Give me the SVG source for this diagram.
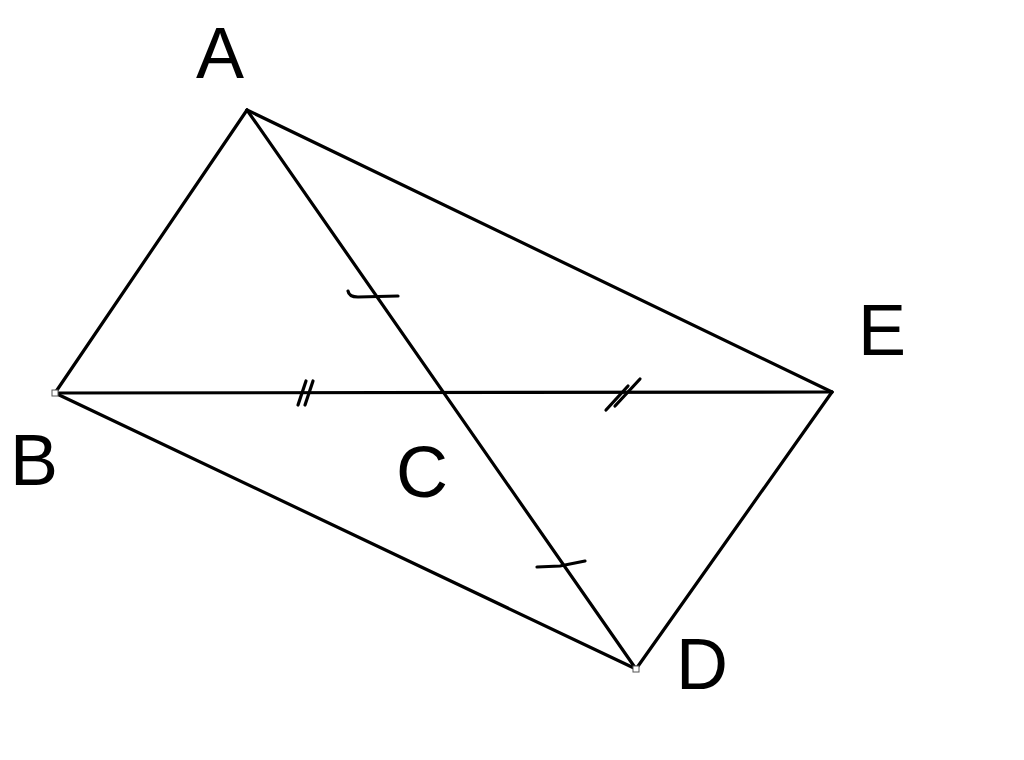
<svg xmlns="http://www.w3.org/2000/svg" width="1024" height="760" viewBox="0 0 1024 760">
<style>
.e{stroke:#000;stroke-width:3.2;fill:none;stroke-linecap:round}
.t{stroke:#000;stroke-width:3.2;fill:none;stroke-linecap:round}
.l{font-family:"Liberation Sans",Arial,sans-serif;font-size:72px;fill:#000}
.v{fill:#fff;stroke:#555;stroke-width:1}
</style>
<rect width="1024" height="760" fill="#fff"/>
<g id="connectors">
<line class="e" x1="247" y1="110" x2="55" y2="393"/>
<line class="e" x1="247" y1="110" x2="832" y2="392"/>
<line class="e" x1="247" y1="110" x2="636" y2="669"/>
<line class="e" x1="55" y1="393" x2="832" y2="392"/>
<line class="e" x1="55" y1="393" x2="636" y2="669"/>
<line class="e" x1="832" y1="392" x2="636" y2="669"/>
</g>
<g id="ticks">
<path class="t" d="M348 291 Q349 297 358 297 L398 296"/>
<path class="t" d="M537 567 L560 566 L585 561"/>
<path class="t" d="M298 405 L306 381 M305 405 L313 381"/>
<path class="t" d="M606 410 L628 386 M615 406 L640 379"/>
</g>
<g id="A"><text class="l" x="220" y="78" text-anchor="middle">A</text></g>
<g id="B"><rect class="v" x="52" y="390" width="6" height="6"/><text class="l" x="34" y="485" text-anchor="middle">B</text></g>
<g id="C"><text class="l" x="422" y="497" text-anchor="middle">C</text></g>
<g id="D"><rect class="v" x="633" y="666" width="6" height="6"/><text class="l" x="702" y="689" text-anchor="middle">D</text></g>
<g id="E"><text class="l" x="882" y="355" text-anchor="middle">E</text></g>
</svg>
